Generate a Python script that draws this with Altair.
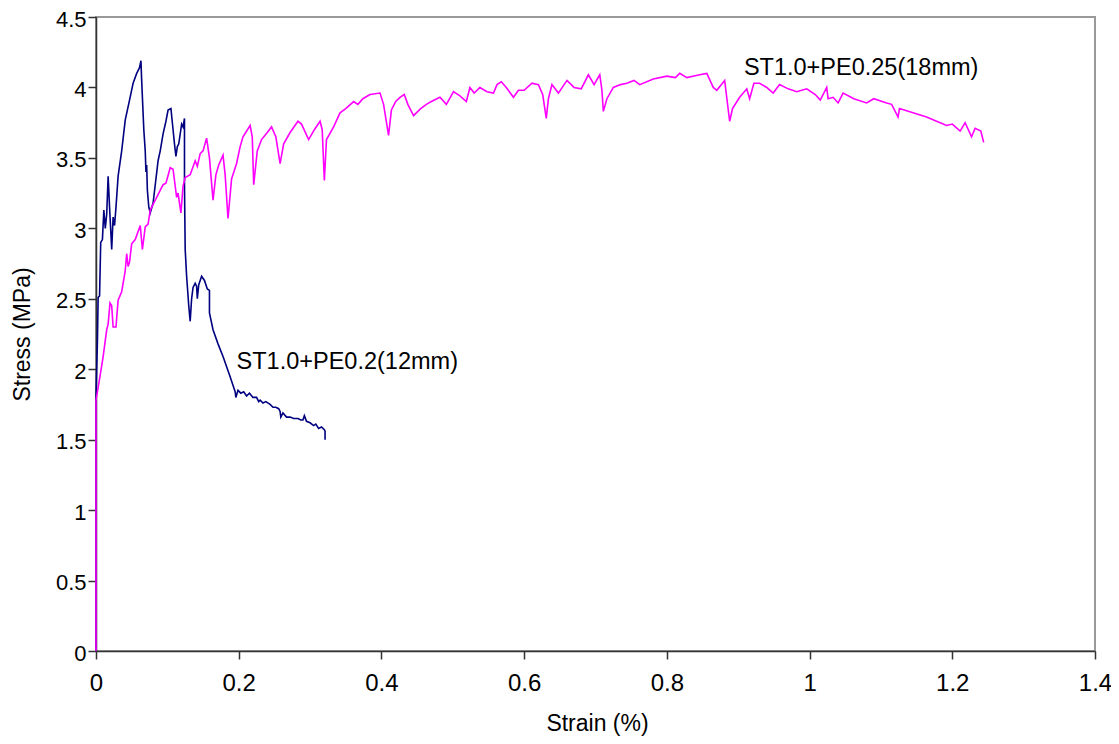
import altair as alt
import pandas as pd

# ST1.0+PE0.2(12mm) – navy curve
strain_pe02 = [0, 0, 0.002, 0.003, 0.005, 0.0066, 0.009, 0.011, 0.013, 0.015, 0.017, 0.019, 0.022, 0.024,
               0.026, 0.028, 0.031, 0.036, 0.041, 0.047, 0.052, 0.057, 0.061, 0.063, 0.064, 0.067, 0.069,
               0.070, 0.071, 0.072, 0.074, 0.076, 0.080, 0.084, 0.087, 0.090, 0.094, 0.098, 0.101, 0.105,
               0.108, 0.110, 0.112, 0.114, 0.116, 0.120, 0.122, 0.124, 0.124, 0.125, 0.127, 0.130, 0.132,
               0.134, 0.136, 0.139, 0.141, 0.142, 0.144, 0.148, 0.152, 0.156, 0.159, 0.159, 0.164, 0.171,
               0.178, 0.187, 0.195, 0.196, 0.199, 0.203, 0.207, 0.211, 0.215, 0.220, 0.225, 0.228, 0.230,
               0.234, 0.238, 0.244, 0.248, 0.252, 0.256, 0.258, 0.259, 0.262, 0.267, 0.272, 0.277, 0.283,
               0.287, 0.290, 0.292, 0.295, 0.300, 0.305, 0.308, 0.312, 0.316, 0.320, 0.321, 0.321]
stress_pe02 = [0, 1.80, 2.20, 2.51, 2.52, 2.90, 2.92, 3.13, 3.00, 3.10, 3.37, 3.15, 2.85, 3.08,
               3.02, 3.15, 3.37, 3.55, 3.77, 3.91, 4.03, 4.10, 4.14, 4.19, 4.05, 3.70, 3.55,
               3.40, 3.45, 3.27, 3.15, 3.11, 3.18, 3.35, 3.48, 3.55, 3.67, 3.76, 3.84, 3.85,
               3.70, 3.60, 3.51, 3.58, 3.60, 3.74, 3.72, 3.78, 3.30, 2.85, 2.66, 2.45, 2.34,
               2.50, 2.58, 2.61, 2.59, 2.50, 2.60, 2.66, 2.63, 2.57, 2.56, 2.40, 2.28, 2.18,
               2.09, 1.96, 1.84, 1.80, 1.85, 1.83, 1.84, 1.81, 1.83, 1.80, 1.80, 1.77, 1.78,
               1.76, 1.77, 1.75, 1.73, 1.73, 1.72, 1.70, 1.66, 1.69, 1.66, 1.66, 1.65, 1.65,
               1.64, 1.64, 1.67, 1.63, 1.62, 1.60, 1.61, 1.58, 1.59, 1.57, 1.56, 1.50]

# ST1.0+PE0.25(18mm) – magenta curve
strain_pe025 = [0, 0, 0.0056, 0.010, 0.015, 0.017, 0.0196, 0.022, 0.024, 0.028, 0.031, 0.036, 0.041, 0.043,
                0.045, 0.047, 0.050, 0.055, 0.062, 0.065, 0.069, 0.073, 0.076, 0.085, 0.094, 0.098, 0.104,
                0.108, 0.113, 0.115, 0.119, 0.122, 0.125, 0.132, 0.139, 0.142, 0.146, 0.150, 0.155, 0.159,
                0.164, 0.168, 0.172, 0.178, 0.181, 0.185, 0.190, 0.197, 0.202, 0.206, 0.216, 0.219, 0.221,
                0.226, 0.232, 0.240, 0.246, 0.252, 0.258, 0.263, 0.272, 0.283, 0.288, 0.298, 0.306, 0.314,
                0.317, 0.320, 0.323, 0.333, 0.342, 0.350, 0.361, 0.367, 0.374, 0.384, 0.398, 0.403, 0.410,
                0.414, 0.420, 0.426, 0.432, 0.437, 0.445, 0.455, 0.463, 0.470, 0.482, 0.491, 0.501, 0.510,
                0.519, 0.524, 0.530, 0.538, 0.548, 0.557, 0.562, 0.568, 0.575, 0.585, 0.592, 0.600, 0.611,
                0.620, 0.626, 0.631, 0.634, 0.639, 0.648, 0.660, 0.670, 0.680, 0.690, 0.698, 0.706, 0.709,
                0.711, 0.716, 0.725, 0.735, 0.744, 0.754, 0.762, 0.781, 0.800, 0.812, 0.818, 0.828, 0.846,
                0.856, 0.865, 0.870, 0.881, 0.888, 0.892, 0.902, 0.912, 0.916, 0.922, 0.930, 0.940, 0.949,
                0.958, 0.970, 0.982, 0.996, 1.008, 1.015, 1.024, 1.026, 1.033, 1.040, 1.047, 1.062, 1.080,
                1.090, 1.108, 1.115, 1.124, 1.126, 1.145, 1.164, 1.178, 1.192, 1.200, 1.211, 1.218, 1.227,
                1.232, 1.240, 1.244]
stress_pe025 = [0, 1.78, 1.95, 2.09, 2.28, 2.32, 2.47, 2.45, 2.30, 2.30, 2.49, 2.55, 2.70, 2.82,
                2.73, 2.76, 2.89, 2.92, 3.02, 2.85, 3.01, 3.03, 3.13, 3.22, 3.31, 3.32, 3.43,
                3.42, 3.22, 3.25, 3.11, 3.30, 3.36, 3.38, 3.48, 3.44, 3.53, 3.55, 3.64, 3.50,
                3.20, 3.38, 3.45, 3.52, 3.38, 3.07, 3.35, 3.46, 3.58, 3.65, 3.73, 3.65, 3.31,
                3.55, 3.63, 3.68, 3.72, 3.65, 3.46, 3.60, 3.68, 3.76, 3.74, 3.63, 3.70, 3.76,
                3.70, 3.34, 3.63, 3.72, 3.82, 3.85, 3.90, 3.88, 3.92, 3.95, 3.96, 3.88, 3.66,
                3.84, 3.90, 3.93, 3.95, 3.88, 3.80, 3.85, 3.88, 3.90, 3.93, 3.88, 3.97, 3.94,
                3.90, 4.00, 3.96, 4.00, 3.97, 3.96, 4.02, 4.04, 4.00, 3.93, 3.98, 3.98, 4.03,
                4.02, 3.95, 3.78, 3.92, 4.02, 3.96, 4.05, 4.00, 3.99, 4.09, 4.02, 4.09, 3.98,
                3.83, 3.92, 4.00, 4.02, 4.03, 4.05, 4.02, 4.06, 4.08, 4.07, 4.10, 4.07, 4.09,
                4.10, 4.00, 3.98, 4.05, 3.76, 3.85, 3.93, 3.99, 3.92, 4.03, 4.03, 4.00, 3.96,
                4.02, 3.99, 3.97, 3.99, 3.95, 3.91, 4.00, 3.92, 3.93, 3.89, 3.96, 3.92, 3.89,
                3.92, 3.89, 3.88, 3.79, 3.85, 3.82, 3.79, 3.76, 3.73, 3.74, 3.69, 3.75, 3.65,
                3.71, 3.69, 3.61]

series_names = ["ST1.0+PE0.2(12mm)", "ST1.0+PE0.25(18mm)"]
series_colors = ["#000080", "#FF00FF"]

label_text = ["ST1.0+PE0.2(12mm)", "ST1.0+PE0.25(18mm)"]
label_x = [0.197, 0.908]
label_y = [2.05, 4.14]

x_ticks = [0, 0.2, 0.4, 0.6, 0.8, 1.0, 1.2, 1.4]
y_ticks = [0, 0.5, 1, 1.5, 2, 2.5, 3, 3.5, 4, 4.5]

rows = []
for name, xs, ys in [(series_names[0], strain_pe02, stress_pe02),
                     (series_names[1], strain_pe025, stress_pe025)]:
    for i, (xv, yv) in enumerate(zip(xs, ys)):
        rows.append({"series": name, "order": i, "strain": xv, "stress": yv})
df = pd.DataFrame(rows)
labels = pd.DataFrame({"text": label_text, "x": label_x, "y": label_y})

FONT = "Liberation Sans"

x_scale = alt.Scale(domain=[0, 1.4], nice=False, zero=False)
y_scale = alt.Scale(domain=[0, 4.5], nice=False, zero=False)

lines = alt.Chart(df).mark_line(strokeWidth=1.6, interpolate="linear").encode(
    x=alt.X("strain:Q", scale=x_scale,
            axis=alt.Axis(title="Strain (%)", values=x_ticks, format="~g", labelFlush=False,
                          titleX=501, titleY=72, titleBaseline="middle")),
    y=alt.Y("stress:Q", scale=y_scale,
            axis=alt.Axis(title="Stress (MPa)", values=y_ticks, format="~g", labelFlush=False,
                          labelOffset=2,
                          titleX=-74, titleY=317, titleBaseline="middle", titleAngle=-90)),
    color=alt.Color("series:N", scale=alt.Scale(domain=series_names, range=series_colors), legend=None),
    order="order:Q",
)

texts = alt.Chart(labels).mark_text(align="left", baseline="middle", font=FONT, fontSize=23.5,
                                    color="#000000").encode(
    x=alt.X("x:Q", scale=x_scale),
    y=alt.Y("y:Q", scale=y_scale),
    text="text:N",
)

chart = alt.layer(lines, texts).properties(
    width=999, height=634,
    autosize=alt.AutoSizeParams(type="none"),
    padding={"left": 88, "top": 9, "right": 16, "bottom": 85},
).configure_view(
    stroke="#999999", strokeWidth=2
).configure_axis(
    labelFont=FONT, titleFont=FONT, labelFontSize=24, titleFontSize=23,
    labelColor="#000000", titleColor="#000000", titleFontWeight="normal",
    domainColor="#333333", domainWidth=1.5, tickColor="#333333", tickWidth=1.5,
    tickSize=8, grid=False,
).configure_axisX(labelPadding=12).configure_axisY(labelPadding=2, labelFontSize=22)

chart.save("out.html", embed_options={"renderer": "svg", "actions": False})
